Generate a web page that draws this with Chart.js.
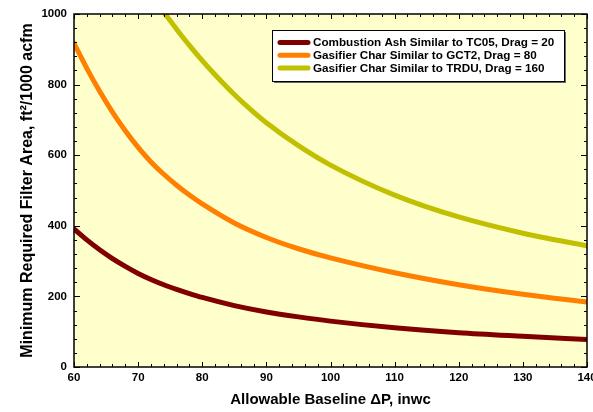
<!DOCTYPE html>
<html>
<head>
<meta charset="utf-8">
<script src="https://cdn.jsdelivr.net/npm/chart.js@4.4.0/dist/chart.umd.min.js"></script>
<style>
  html, body { margin: 0; padding: 0; background: #ffffff; }
  #wrap { width: 593px; height: 412px; }
</style>
</head>
<body>
<div id="wrap"><canvas id="filter-area-chart" width="593" height="412"></canvas></div>
<script>
// series labels and colours
const seriesLabels = [
  "Combustion Ash Similar to TC05, Drag = 20",
  "Gasifier Char Similar to GCT2, Drag = 80",
  "Gasifier Char Similar to TRDU, Drag = 160"
];
const seriesColors = ["#800000", "#ff8000", "#c0c000"];

// values (x = allowable baseline dP, y = filter area)
const ashX = [60, 62, 64, 66, 68, 70, 72, 74, 76, 78, 80, 85, 90, 95, 100, 110, 120, 130, 140];
const ashY = [391, 360, 332, 307, 285, 265, 248, 233, 220, 208, 197, 174, 156, 142, 130, 111, 97, 87, 78];

const gct2X = [60, 62, 64, 66, 68, 70, 72, 74, 76, 78, 80, 85, 90, 95, 100, 110, 120, 130, 140];
const gct2Y = [917, 846, 781, 722, 669, 622, 581, 546, 515, 487, 462, 408, 367, 335, 309, 267, 233, 206, 184];

const trduX = [74.2, 76, 78, 80, 82, 85, 88, 90, 95, 100, 110, 120, 130, 140];
const trduY = [1000, 957, 911, 868, 828, 772, 722, 692, 627, 572, 487, 425, 379, 343];

const xTicks = [60, 70, 80, 90, 100, 110, 120, 130, 140];
const yTicks = [0, 200, 400, 600, 800, 1000];

function toPoints(xs, ys) {
  const pts = [];
  for (let i = 0; i < xs.length; i++) {
    pts.push({ x: xs[i], y: ys[i] });
  }
  return pts;
}

const FONT = "'Liberation Sans', Arial, sans-serif";

// yellow plot background + frame + inward ticks on all four sides
const frameTicks = {
  id: 'frameTicks',
  beforeDatasetsDraw(chart) {
    const { ctx, chartArea: a } = chart;
    ctx.save();
    ctx.fillStyle = '#ffffcc';
    ctx.fillRect(a.left, a.top, a.right - a.left, a.bottom - a.top);
    ctx.restore();
  },
  afterDatasetsDraw(chart) {
    const { ctx, chartArea: a, scales } = chart;
    ctx.save();
    ctx.strokeStyle = '#000000';
    ctx.lineWidth = 1;
    ctx.beginPath();
    for (let v = 60; v <= 140; v += 2) {
      const px = Math.round(scales.x.getPixelForValue(v)) + 0.5;
      const len = (v % 10 === 0) ? 5 : 3;
      ctx.moveTo(px, a.bottom); ctx.lineTo(px, a.bottom - len);
      ctx.moveTo(px, a.top); ctx.lineTo(px, a.top + len);
    }
    for (let v = 0; v <= 1000; v += 40) {
      const py = Math.round(scales.y.getPixelForValue(v)) + 0.5;
      const len = (v % 200 === 0) ? 6 : 3;
      ctx.moveTo(a.left, py); ctx.lineTo(a.left + len, py);
      ctx.moveTo(a.right, py); ctx.lineTo(a.right - len, py);
    }
    ctx.stroke();
    ctx.lineWidth = 1.5;
    ctx.strokeRect(a.left, a.top, a.right - a.left, a.bottom - a.top);
    ctx.restore();
  }
};

// legend box inside the plot, top right
const boxLegend = {
  id: 'boxLegend',
  afterDraw(chart) {
    const { ctx } = chart;
    const bx = 272, by = 30, bw = 292, bh = 51;
    ctx.save();
    ctx.fillStyle = '#666666';
    ctx.fillRect(bx + 2, by + 2, bw, bh);
    ctx.fillStyle = '#ffffff';
    ctx.fillRect(bx, by, bw, bh);
    ctx.strokeStyle = '#000000';
    ctx.lineWidth = 1;
    ctx.strokeRect(bx + 0.5, by + 0.5, bw, bh);
    ctx.font = 'bold 11.7px ' + FONT;
    ctx.textBaseline = 'middle';
    chart.data.datasets.forEach(function (ds, i) {
      const ry = by + 12.5 + i * 12.7;
      ctx.strokeStyle = ds.borderColor;
      ctx.lineWidth = 5;
      ctx.lineCap = 'round';
      ctx.beginPath();
      ctx.moveTo(280, ry);
      ctx.lineTo(308, ry);
      ctx.stroke();
      ctx.fillStyle = '#000000';
      ctx.fillText(ds.label, 313, ry + 0.5);
    });
    ctx.restore();
  }
};

new Chart(document.getElementById("filter-area-chart"), {
  type: 'line',
  data: {
    datasets: [
      { label: seriesLabels[0], data: toPoints(ashX, ashY) },
      { label: seriesLabels[1], data: toPoints(gct2X, gct2Y) },
      { label: seriesLabels[2], data: toPoints(trduX, trduY) }
    ].map(function (ds, i) {
      ds.borderColor = seriesColors[i];
      ds.backgroundColor = seriesColors[i];
      ds.borderWidth = 5;
      ds.borderCapStyle = 'round';
      ds.pointRadius = 0;
      ds.fill = false;
      ds.cubicInterpolationMode = 'monotone';
      ds.clip = 0;
      return ds;
    })
  },
  options: {
    responsive: false,
    animation: false,
    layout: { padding: { top: 14, right: 6, left: 0, bottom: 0 } },
    plugins: {
      legend: { display: false },
      tooltip: { enabled: false }
    },
    scales: {
      x: {
        type: 'linear',
        min: 60,
        max: 140,
        afterBuildTicks: function (s) { s.ticks = xTicks.map(function (v) { return { value: v }; }); },
        afterFit: function (s) { s.height = 45; s.paddingLeft = 0; s.paddingRight = 0; },
        grid: { display: false, drawTicks: false },
        border: { display: false },
        ticks: {
          color: '#000000',
          padding: 4,
          maxRotation: 0,
          autoSkip: false,
          callback: function (v) { return String(v); },
          font: { family: FONT, size: 11.5, weight: 'bold' }
        },
        title: {
          display: true,
          text: 'Allowable Baseline ΔP, inwc',
          color: '#000000',
          padding: { top: 0, bottom: 3 },
          font: { family: FONT, size: 15, weight: 'bold' }
        }
      },
      y: {
        type: 'linear',
        min: 0,
        max: 1000,
        afterBuildTicks: function (s) { s.ticks = yTicks.map(function (v) { return { value: v }; }); },
        afterFit: function (s) { s.width = 74; s.paddingTop = 0; s.paddingBottom = 0; },
        grid: { display: false, drawTicks: false },
        border: { display: false },
        ticks: {
          color: '#000000',
          padding: 7,
          autoSkip: false,
          callback: function (v) { return String(v); },
          font: { family: FONT, size: 11.5, weight: 'bold' }
        },
        title: {
          display: true,
          text: 'Minimum Required Filter Area, ft²/1000 acfm',
          color: '#000000',
          padding: { top: 18, bottom: 0 },
          font: { family: FONT, size: 16, weight: 'bold' }
        }
      }
    }
  },
  plugins: [frameTicks, boxLegend]
});
</script>
</body>
</html>
